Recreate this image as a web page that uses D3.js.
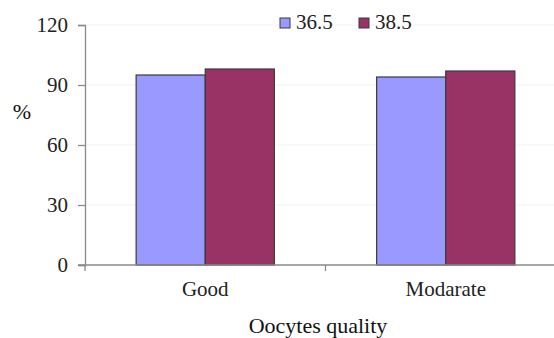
<!DOCTYPE html>
<html>
<head>
<meta charset="utf-8">
<script src="https://cdn.jsdelivr.net/npm/d3@7"></script>
</head>
<body style="margin:0;background:#fff;font-family:'Liberation Serif',serif">
<svg id="chart" width="554" height="338" font-family="Liberation Serif"></svg>
<script>
// Oocyte quality by incubation temperature (%)
const categories = ["Good", "Modarate"];
const seriesNames = ["36.5", "38.5"];
const values365 = [95, 94];
const values385 = [98, 97];
const yTicks = [0, 30, 60, 90, 120];
const colors = ["#9999FF", "#993366"];

const svg = d3.select("#chart");
const margin = { left: 85, top: 25, right: -12, bottom: 73 };
const W = 554, H = 338;
const plotBottom = H - margin.bottom;

// serif text styling applied as an inline font shorthand
function serif(sel, size) {
  return sel.attr("style", `font: ${size}px 'Liberation Serif', serif`);
}

const x = d3.scaleBand().domain(categories).range([margin.left, W - margin.right]).padding(0);
const inner = d3.scaleBand().domain(seriesNames).range([0, x.bandwidth()]).paddingInner(0).paddingOuter(0.74);
const y = d3.scaleLinear().domain([0, 120]).range([plotBottom, margin.top]);

// faint horizontal gridlines
svg.append("g")
  .selectAll("line")
  .data(yTicks.slice(1))
  .join("line")
  .attr("x1", margin.left).attr("x2", W)
  .attr("y1", d => y(d)).attr("y2", d => y(d))
  .attr("stroke", "#f2f2f2").attr("stroke-width", 1);

// bars
const rows = categories.map((c, i) => ({ cat: c, vals: [values365[i], values385[i]] }));
svg.append("g")
  .selectAll("g")
  .data(rows)
  .join("g")
  .attr("transform", d => `translate(${x(d.cat)},0)`)
  .selectAll("rect")
  .data(d => d.vals.map((v, j) => ({ name: seriesNames[j], v, j })))
  .join("rect")
  .attr("x", d => inner(d.name))
  .attr("width", inner.bandwidth())
  .attr("y", d => y(d.v))
  .attr("height", d => plotBottom - y(d.v))
  .attr("fill", d => colors[d.j])
  .attr("stroke", "#3a3a3a")
  .attr("stroke-width", 1.2);

// y axis
const yAxis = svg.append("g")
  .attr("transform", `translate(${margin.left},0)`)
  .call(d3.axisLeft(y).tickValues(yTicks).tickSize(7).tickPadding(10));
yAxis.attr("font-family", "Liberation Serif").attr("font-size", 21);
yAxis.select(".domain").attr("stroke", "#8a8a8a").attr("stroke-width", 1.3);
yAxis.selectAll(".tick line").attr("stroke", "#8a8a8a").attr("stroke-width", 1.3);
serif(yAxis.selectAll("text"), 21).attr("fill", "#222");

// x axis with ticks at category boundaries
const xAxisG = svg.append("g").attr("transform", `translate(0,${plotBottom})`);
xAxisG.append("line")
  .attr("x1", margin.left - 7).attr("x2", W)
  .attr("stroke", "#8a8a8a").attr("stroke-width", 1.3);
const boundaries = [x(categories[0]), x(categories[1])];
xAxisG.selectAll("line.tk")
  .data(boundaries)
  .join("line").attr("class", "tk")
  .attr("x1", d => d).attr("x2", d => d)
  .attr("y1", 0).attr("y2", 6)
  .attr("stroke", "#8a8a8a").attr("stroke-width", 1.3);
serif(xAxisG.selectAll("text")
  .data(categories)
  .join("text")
  .attr("x", d => x(d) + x.bandwidth() / 2)
  .attr("y", 31)
  .attr("text-anchor", "middle"), 21)
  .attr("fill", "#222")
  .text(d => d);

// axis titles
serif(svg.append("text")
  .attr("x", 318).attr("y", 333)
  .attr("text-anchor", "middle"), 22)
  .attr("fill", "#111")
  .text("Oocytes quality");
serif(svg.append("text")
  .attr("x", 22).attr("y", 119)
  .attr("text-anchor", "middle"), 22)
  .attr("fill", "#111")
  .text("%");

// legend
const legendX = [280, 359];
const legend = svg.append("g");
seriesNames.forEach((name, j) => {
  const g = legend.append("g").attr("transform", `translate(${legendX[j]},18)`);
  g.append("rect").attr("width", 10).attr("height", 10)
    .attr("fill", colors[j]).attr("stroke", "#3a3a3a").attr("stroke-width", 1);
  serif(g.append("text").attr("x", 16).attr("y", 10.5), 21)
    .attr("fill", "#222").text(name);
});
</script>
</body>
</html>
